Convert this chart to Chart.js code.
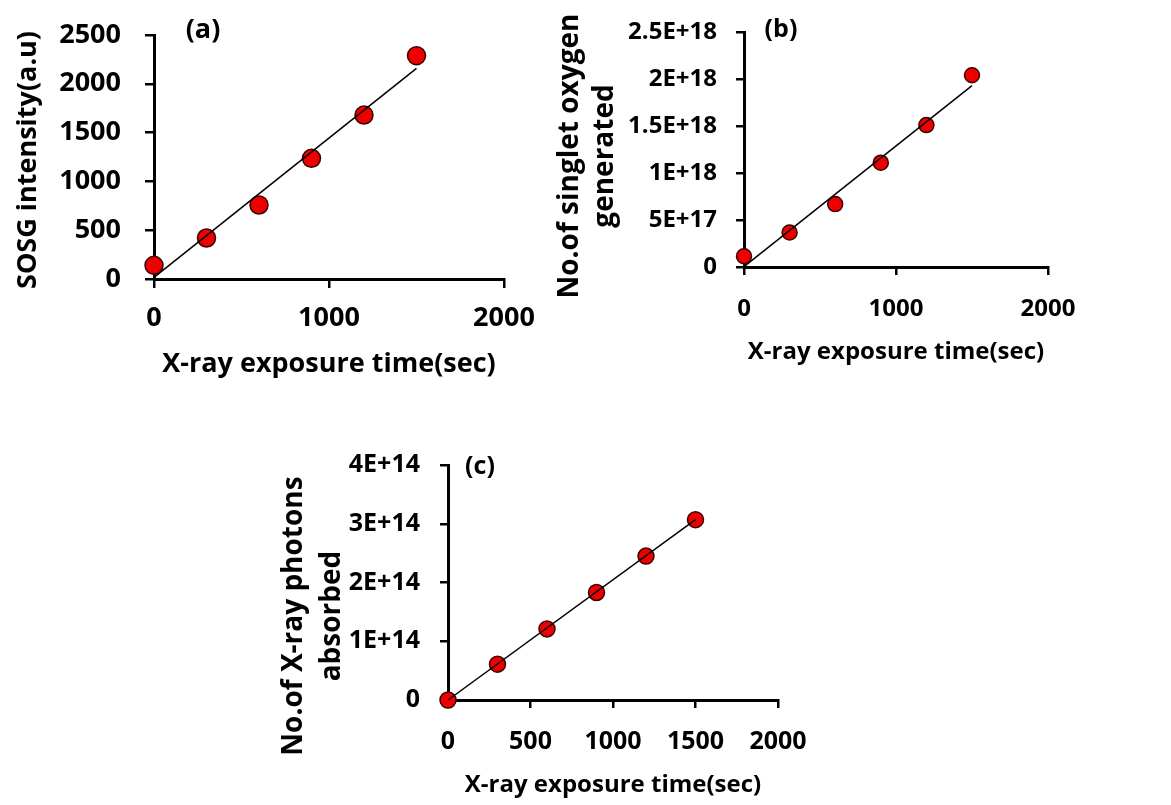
<!DOCTYPE html>
<html>
<head>
<meta charset="utf-8">
<script src="https://cdn.jsdelivr.net/npm/chart.js@4.4.1/dist/chart.umd.min.js"></script>
<style>
  html, body { margin: 0; padding: 0; background: #fff; }
  body { width: 1171px; height: 805px; position: relative; overflow: hidden; }
  canvas { position: absolute; }
</style>
</head>
<body>
<canvas id="chartA" width="540" height="400" style="left:0px;top:0px"></canvas>
<canvas id="chartB" width="631" height="400" style="left:540px;top:0px"></canvas>
<canvas id="chartC" width="560" height="385" style="left:260px;top:420px"></canvas>
<script>
// exposure times shared by the three panels
const timeSec = [0, 300, 600, 900, 1200, 1500]

// measured values
const sosgIntensity = [140, 420, 758, 1236, 1680, 2288]
const singletOxygen = [1.14e17, 3.67e17, 6.69e17, 1.11e18, 1.51e18, 2.04e18]
const photonsAbsorbed = [0, 6.1e13, 1.21e14, 1.83e14, 2.45e14, 3.07e14]

// linear trendlines (end points)
const trendTime = [0, 1500]
const sosgTrend = [16, 2158]
const oxygenTrend = [4e15, 1.93e18]
const photonTrend = [0, 3.07e14]

// tick labels
const xTicksAB = ['0', '1000', '2000']
const xTicksC = ['0', '500', '1000', '1500', '2000']
const sosgTicks = ['0', '500', '1000', '1500', '2000', '2500']
const oxygenTicks = ['0', '5E+17', '1E+18', '1.5E+18', '2E+18', '2.5E+18']
const photonTicks = ['0', '1E+14', '2E+14', '3E+14', '4E+14']

const FONT = "'Open Sans', 'DejaVu Sans', sans-serif"

const toPoints = (xs, ys) => xs.map((x, i) => ({ x: x, y: ys[i] }))

// panel tag "(a)" and the rotated y axis title (Excel centres it off the axis)
const panelText = {
  id: 'panelText',
  afterDraw(chart, args, opts) {
    const ctx = chart.ctx
    ctx.save()
    ctx.fillStyle = '#000'
    ctx.textAlign = 'center'
    ctx.textBaseline = 'middle'
    ctx.font = 'bold ' + opts.tag.size + 'px ' + FONT
    ctx.fillText(opts.tag.text, opts.tag.x, opts.tag.y)

    const t = opts.yTitle
    ctx.font = 'bold ' + t.size + 'px ' + FONT
    t.lines.forEach((line, i) => {
      ctx.save()
      ctx.translate(t.x[i], t.y)
      ctx.rotate(-Math.PI / 2)
      ctx.fillText(line, 0, 0)
      ctx.restore()
    })
    ctx.restore()
  }
}

function makePanel(canvasId, p) {
  const ctx = document.getElementById(canvasId).getContext('2d')
  const axisGrid = {
    display: true,
    drawOnChartArea: false,
    drawTicks: true,
    tickLength: p.tickLen,
    color: '#000',
    lineWidth: 2.5
  }
  const axisBorder = { display: true, color: '#000', width: 3 }

  new Chart(ctx, {
    type: 'scatter',
    data: {
      datasets: [
        {
          data: toPoints(trendTime, p.trend),
          showLine: true,
          borderColor: '#000',
          borderWidth: 1.5,
          pointRadius: 0,
          order: 0,
          clip: false
        },
        {
          data: toPoints(timeSec, p.values),
          backgroundColor: '#ee0000',
          borderColor: '#3a0000',
          borderWidth: 1.5,
          pointRadius: p.radius,
          order: 1,
          clip: false
        }
      ]
    },
    options: {
      responsive: false,
      animation: false,
      layout: { padding: p.padding },
      plugins: {
        legend: { display: false },
        tooltip: { enabled: false },
        panelText: { tag: p.tag, yTitle: p.yTitle }
      },
      scales: {
        x: {
          type: 'linear',
          min: 0,
          max: 2000,
          grid: axisGrid,
          border: axisBorder,
          ticks: {
            stepSize: p.xStep,
            color: '#000',
            padding: p.xTickPad,
            maxRotation: 0,
            font: { family: FONT, size: p.tickSize, weight: 'bold' },
            callback: (v, i) => p.xLabels[i]
          },
          title: {
            display: true,
            text: 'X-ray exposure time(sec)',
            color: '#000',
            font: { family: FONT, size: p.titleSize, weight: 'bold', lineHeight: 1.2 },
            padding: { top: 0, bottom: p.xTitlePad }
          },
          afterFit: scale => {
            scale.height = p.xHeight
            scale.paddingLeft = 0
            scale.paddingRight = 0
          }
        },
        y: {
          type: 'linear',
          min: 0,
          max: p.yMax,
          grid: axisGrid,
          border: axisBorder,
          ticks: {
            stepSize: p.yStep,
            color: '#000',
            padding: p.yTickPad,
            font: { family: FONT, size: p.tickSize, weight: 'bold' },
            callback: (v, i) => p.yLabels[i]
          },
          afterFit: scale => {
            scale.width = p.yWidth
            scale.paddingTop = 0
            scale.paddingBottom = 0
          }
        }
      }
    },
    plugins: [panelText]
  })
}

document.addEventListener('DOMContentLoaded', () => {
  makePanel('chartA', {
    values: sosgIntensity, trend: sosgTrend, radius: 9,
    padding: { top: 35, right: 36, left: 0, bottom: 0 },
    xHeight: 121, yWidth: 154,
    yMax: 2500, yStep: 500, xStep: 1000,
    xLabels: xTicksAB, yLabels: sosgTicks,
    tickSize: 27, titleSize: 27, tickLen: 9,
    xTickPad: 14, yTickPad: 24, xTitlePad: 19,
    yTitle: { lines: ['SOSG intensity(a.u)'], x: [28], y: 160, size: 27 },
    tag: { text: '(a)', x: 203, y: 30, size: 27 }
  })

  makePanel('chartB', {
    values: singletOxygen, trend: oxygenTrend, radius: 7.5,
    padding: { top: 32, right: 123, left: 0, bottom: 0 },
    xHeight: 133, yWidth: 204,
    yMax: 2.5e18, yStep: 5e17, xStep: 1000,
    xLabels: xTicksAB, yLabels: oxygenTicks,
    tickSize: 24, titleSize: 24, tickLen: 8,
    xTickPad: 20, yTickPad: 19, xTitlePad: 33,
    yTitle: { lines: ['No.of singlet oxygen', 'generated'], x: [30, 65], y: 156, size: 28 },
    tag: { text: '(b)', x: 241, y: 30, size: 25 }
  })

  makePanel('chartC', {
    values: photonsAbsorbed, trend: photonTrend, radius: 8,
    padding: { top: 45, right: 42, left: 0, bottom: 0 },
    xHeight: 105, yWidth: 188,
    yMax: 4e14, yStep: 1e14, xStep: 500,
    xLabels: xTicksC, yLabels: photonTicks,
    tickSize: 25, titleSize: 24, tickLen: 8,
    xTickPad: 19, yTickPad: 20, xTitlePad: 5,
    yTitle: { lines: ['No.of X-ray photons', 'absorbed'], x: [34, 72], y: 196, size: 28 },
    tag: { text: '(c)', x: 220, y: 47, size: 25 }
  })
})
</script>
</body>
</html>
